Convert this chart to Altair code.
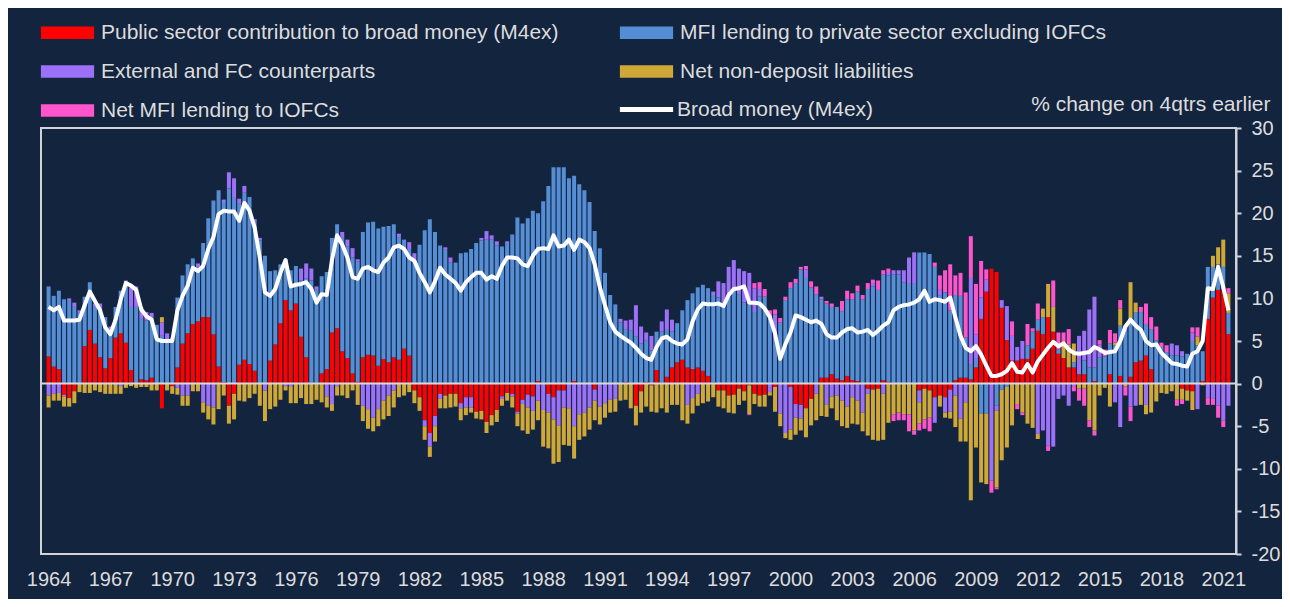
import altair as alt
import pandas as pd

start_year = 1964
x_labels = list(range(1964, 2022, 3))
y_ticks = list(range(-20, 31, 5))

# quarterly values, 1964Q1 .. 2021Q2 (one line per year)
public_sector = [
    3.2, 2.0, 1.7, -1.3,  -1.7, -0.9, 0, 4.4,  6.3, 4.7, 3.1, 1.8,  3.0, 5.4, 5.9, 4.8,
    1.6, 0, 0.5, 0.4,  0.7, 0, -2.9, 0,  -0.3, 1.9, 4.7, 5.9,  7.0, 7.3, 7.8, 7.8,
    5.8, 2.0, 0.2, -2.6,  -1.2, 2.2, 2.8, 2.3,  1.5, 0, 0, 2.7,  4.6, 7.1, 9.8, 8.6,
    9.4, 5.5, 3.1, 0.1,  0, 1.2, 1.7, 6.0,  6.5, 3.8, 3.0, 1.2,  0.2, 3.1, 3.4, 3.3,
    2.1, 2.9, 2.5, 3.1,  2.8, 4.1, 3.3, -0.8,  -1.6, -4.3, -5.8, -3.8,  -1.2, -1.4, -1.2, -1.2,
    -2.3, -1.6, -1.6, -3.3,  -3.2, -4.5, -3.7, -3.1,  -1.5, -1.1, -1.2, -3.3,  -1.9, -1.3, -1.5, 0.3,
    0, -1.2, -1.6, -0.8,  -0.8, 0, 0.3, 0,  0, 0, -0.7, 0,  0, 0, 0, 0,
    0.2, 0, -2.6, -0.9,  0.2, -0.2, 1.6, 0.1,  0.8, 1.9, 2.5, 2.8,  1.9, 1.7, 1.9, 1.5,
    0.9, 0.1, -0.8, -0.8,  -1.4, -1.3, -0.6, -0.9,  -0.2, -1.2, -1.4, -1.3,  0, -0.4, 0, 0,
    -0.4, -2.4, -2.5, -2.9,  -1.8, 0, 0.7, 0.7,  1.1, 0.6, 0.4, 0.9,  0.4, 0.3, 0, -0.6,
    -0.7, -0.6, 0.4, 0.2,  0, 0, 0, 0,  0, -0.8, -0.6, -0.8,  -1.6, -1.4, -1.6, -0.7,
    0.4, 0.7, 0.7, 0.5,  1.9, 7.6, 10.8, 13.5,  13.1, 8.9, 5.1, 2.7,  2.7, 2.9, 2.9, 4.1,
    6.2, 5.8, 7.8, 6.1,  3.5, 3.0, 1.9, 1.9,  1.1, 1.1, 0, 0.3,  0, 0, 1.1, 0,
    0.9, 0, 0.8, 2.5,  2.7, 3.3, 1.7, 0,  0, 0, 0, 0,  -0.6, -0.8, -0.9, 0,
    0.3, 7.6, 10.1, 11.0,  11.1, 5.8,
]
mfi_lending = [
    8.2, 8.3, 9.2, 9.9,  9.7, 9.0, 8.3, 5.8,  5.6, 4.3, 5.9, 6.0,  3.4, 3.6, 5.0, 7.0,
    7.4, 9.0, 7.1, 7.0,  7.1, 6.9, 5.6, 5.2,  5.4, 8.2, 8.0, 8.1,  7.7, 6.4, 8.7, 11.6,
    15.7, 20.7, 21.1, 22.9,  21.8, 18.9, 19.6, 19.6,  17.4, 16.8, 15.0, 10.5,  8.7, 6.9, 4.8, 4.7,
    4.4, 6.6, 9.2, 12.0,  11.0, 11.4, 11.4, 11.1,  12.2, 13.3, 13.1, 13.6,  14.1, 14.7, 15.5, 15.7,
    16.1, 15.5, 16.0, 15.6,  14.4, 12.8, 12.5, 14.4,  16.3, 18.0, 19.3, 17.8,  16.2, 15.7, 14.2, 14.2,
    15.3, 15.4, 15.8, 16.5,  16.8, 16.9, 16.9, 16.2,  16.1, 16.5, 17.5, 19.5,  18.8, 19.4, 20.3, 19.7,
    21.4, 23.2, 25.4, 25.4,  25.4, 24.1, 24.1, 23.4,  22.7, 21.3, 17.9, 15.9,  13.0, 10.4, 9.3, 7.2,
    6.2, 6.2, 5.5, 4.7,  4.9, 3.9, 4.5, 6.0,  5.5, 4.2, 4.6, 5.8,  7.9, 8.9, 9.4, 10.1,
    10.3, 10.3, 10.1, 9.0,  10.3, 11.1, 10.5, 9.5,  9.3, 8.4, 10.2, 10.2,  7.8, 5.0, 7.2, 9.8,
    11.2, 11.8, 13.4, 12.4,  11.3, 10.5, 9.2, 8.7,  7.9, 8.4, 8.1, 9.0,  9.5, 10.5, 9.9, 11.1,
    11.4, 11.0, 12.4, 12.5,  12.8, 12.8, 11.9, 11.7,  11.7, 15.4, 15.4, 15.2,  13.7, 10.3, 10.7, 8.6,
    10.0, 9.6, 4.7, 1.7,  1.0, -3.5, -3.5, 0,  -2.6, -0.7, -0.4, 0,  0, 0, 1.6, 2.0,
    1.3, 2.0, 0, 0,  0.5, 0, 0, 0.6,  0, 1.6, 1.9, 1.6,  3.1, 3.2, 3.6, 4.5,
    5.9, 6.4, 6.6, 5.9,  5.7, 3.7, 4.7, 5.1,  4.3, 3.7, 3.3, 3.3,  3.2, 3.5, 5.0, 4.5,
    3.5, 6.1, 3.6, 3.0,  2.6, 2.5,
]
external_fc = [
    -1.4, -1.2, -1.1, -0.2,  0.3, 0.5, 0.3, 0,  0, 0.4, 0.4, 0,  0.3, 0, -0.3, 0.3,
    2.3, 2.4, 1.4, 1.0,  0.5, 0, 1.6, 0.7,  0, -0.5, -1.4, -1.4,  0, 0.4, -2.2, -2.6,
    -2.8, 0, 0.3, 1.9,  2.3, 0.6, 0.8, 0,  0.4, 0.3, -0.8, 0,  0, 0, -0.3, -0.3,
    0, 1.4, 1.8, 1.4,  0.4, 0, -1.5, -2.4,  -0.3, 0.7, 0.8, 1.1,  0.3, -2.6, -3.0, -4.0,
    -3.0, -2.0, -1.4, -0.8,  0.4, 0, 0.8, 0.9,  0, -0.7, -1.6, -1.2,  -0.6, 0.3, 0.6, 0,
    -0.6, -1.2, -1.2, 0,  0.3, 1.0, 0.5, 0.5,  -0.3, 0.2, -0.3, -0.2,  -0.5, -1.5, -1.7, -2.0,
    -3.1, -2.2, -2.6, -4.1,  -2.0, -2.9, -5.0, -3.6,  -3.4, -2.8, -1.3, -2.7,  -2.3, -1.9, -1.8, 0.4,
    1.0, 1.3, 3.7, 2.0,  0.9, 1.7, 0, 1.2,  2.4, 1.4, 0, 0,  -2.5, -1.7, -1.2, 0,
    0, 0.4, 1.9, 2.8,  3.4, 3.4, 3.0, 3.7,  3.7, 2.8, 0.9, 0,  -1.0, 3.1, -3.5, -5.8,
    -5.0, -1.6, -1.6, 1.0,  0, -1.2, 0.3, -2.5,  -1.5, -1.4, -2.0, -2.7,  -1.6, -2.0, -3.4, -0.6,
    0.4, 0, -1.2, 0.4,  0.5, 0.5, 1.4, 3.1,  3.7, -1.4, 0, 0,  -3.0, 0.7, -1.8, -2.6,
    -1.4, -4.1, -2.2, 10.2,  2.9, 2.5, 1.4, -11.4,  -0.6, 0.9, 4.0, 2.9,  1.6, 2.1, 0, 0,
    -5.9, -5.5, -7.3, -7.4,  -1.8, -1.4, -2.6, -0.3,  4.5, 3.5, 6.8, 8.3,  1.5, 0, 0, -2.2,
    -5.1, 0.4, -2.7, -2.6,  0, -2.5, 0, 0,  0, 0, 1.4, 1.2,  0.6, 0, 1.0, -3.0,
    0, -1.6, -1.8, -2.6,  -4.3, -2.6,
]
non_deposit = [
    -1.4, -0.8, -0.9, -1.2,  -1.0, -1.4, -1.0, -1.1,  -1.1, -0.8, -1.0, -1.2,  -1.2, -1.2, -0.9, -0.5,
    -0.3, -0.5, -0.4, -0.4,  -0.8, -0.8, 0.6, -0.8,  -0.9, -0.8, -1.2, -1.2,  -0.9, -0.9, -1.2, -1.6,
    -2.0, -3.0, -1.4, -2.1,  -3.0, -2.0, -2.1, -1.7,  -1.2, -2.6, -3.6, -3.0,  -2.7, -1.9, -0.5, -2.0,
    -2.3, -1.7, -2.4, -2.4,  -1.9, -2.2, -1.3, -0.8,  -1.1, -1.4, -1.7, -0.8,  -2.5, -1.8, -2.3, -1.6,
    -2.0, -2.2, -2.4, -2.0,  -1.6, -1.4, -1.0, -1.5,  -1.6, -1.6, -1.2, -1.8,  -1.1, -1.5, -1.6, -1.5,
    -1.4, -0.9, -0.6, -0.8,  -1.0, -1.3, -1.2, -1.4,  -0.8, -0.9, -1.3, -1.5,  -3.1, -3.1, -2.2, -2.3,
    -4.3, -4.2, -5.2, -4.3,  -4.4, -4.4, -3.8, -3.0,  -2.8, -2.6, -2.3, -2.1,  -1.7, -1.5, -1.5, -2.0,
    -1.9, -2.9, -2.3, -2.5,  -2.7, -3.1, -3.4, -2.9,  -3.4, -2.5, -2.5, -4.3,  -2.2, -1.8, -1.4, -2.3,
    -2.1, -1.6, -1.9, -2.1,  -2.0, -2.2, -1.9, -1.1,  -3.4, -1.2, -1.3, -1.4,  -0.4, -2.9, -1.5, -0.6,
    -1.2, -2.0, -1.4, -3.4,  -3.1, -3.1, -3.8, -1.4,  -1.4, -2.9, -3.0, -2.5,  -3.1, -2.8, -2.2, -4.9,
    -5.9, -6.1, -5.4, -4.6,  -3.6, -3.4, -3.6, -3.6,  -5.5, -2.5, -3.6, -3.2,  0, -1.3, -0.6, -0.8,
    -3.7, -2.7, -4.6, -13.7,  -7.5, -8.1, -8.3, 0,  -9.0, -8.3, -7.1, -4.9,  -2.4, -3.4, -4.7, -5.2,
    -0.6, 1.0, 3.9, 2.9,  0, 2.0, 2.7, 2.2,  -0.6, -0.6, -4.3, -5.5,  -1.4, -0.5, -2.7, 0.3,
    2.0, -0.3, 4.5, 1.1,  -2.5, -1.1, -3.4, -2.1,  -1.1, -1.2, -0.9, -1.9,  -1.3, -1.2, -2.2, 1.0,
    -0.2, 0, 1.3, 2.0,  3.2, 2.3,
]
iofc_lending = [
    0, 0, 0, 0,  0, 0, 0, 0,  0, 0, 0, 0,  0, 0, 0, 0,
    0, 0, 0, 0,  0, 0, 0, 0,  0, 0, 0, 0,  0, 0, 0, 0,
    0, 0, 0, 0,  0, 0, 0, 0,  0, 0, 0, 0,  0, 0, 0, 0,
    0, 0, 0, 0,  0, 0, 0, 0,  0, 0, 0, 0,  0, 0, 0, 0,
    0, 0, 0, 0,  0, 0, 0, 0,  0, 0, 0, 0,  0, 0, 0, 0,
    0, 0, 0, 0,  0, 0, 0, 0,  0, 0, 0, 0,  0, 0, 0, 0,
    0, 0, 0, 0,  0, 0, 0, 0,  0, 0, 0, 0,  0, 0, 0, 0,
    0, 0, 0, 0,  0, 0, 0, 0,  0, 0, 0, 0,  0, 0, 0, 0,
    0, 0, 0, 0,  0, 0, 0, 0,  -0.1, 0.6, 0.8, 0.9,  0.8, 0.6, 0.5, 0.4,
    0.7, 0.5, 0.3, 0.4,  0.7, 0.9, 0, 0.3,  0.4, 0, 1.2, 1.0,  0.7, 0.7, 0.5, 0.7,
    0.4, 1.1, 0.5, 0.4,  -0.8, -0.9, -0.7, -2.0,  -0.5, -0.8, -1.1, -1.6,  0.5, 1.7, 2.6, 5.4,
    2.3, 2.7, 5.3, 4.9,  5.9, 4.3, 1.2, -1.4,  -0.2, 0, 0, 1.7,  -0.6, -0.3, 2.5, 0.4,
    1.9, 0, -0.6, 3.1,  2.0, 1.0, 1.8, -0.6,  -1.4, -2.0, -0.8, -0.6,  0.5, 0.8, 1.6, 1.1,
    1.0, -1.1, -1.7, 0,  0.6, 2.4, 1.4, 1.6,  0.5, 0.8, 0, -0.7,  -0.5, 0, 0.6, 1.1,
    0, -0.9, -0.7, -1.4,  -0.8, 0.6,
]
broad_money = [
    9.0, 8.6, 9.0, 7.4,  7.4, 7.4, 7.5, 9.2,  10.8, 9.7, 8.6, 6.6,  5.8, 7.5, 9.9, 11.8,
    11.5, 11.0, 8.7, 7.9,  7.5, 5.2, 5.0, 5.0,  5.0, 8.6, 10.3, 11.5,  13.6, 13.2, 13.8, 15.8,
    17.2, 19.9, 20.3, 20.2,  20.2, 19.1, 21.2, 20.3,  18.3, 14.8, 10.7, 10.3,  11.1, 13.0, 14.5, 11.4,
    11.6, 11.7, 11.9, 11.1,  9.5, 10.5, 10.4, 14.5,  17.4, 16.3, 14.8, 12.5,  12.3, 13.5, 13.7, 13.3,
    13.1, 14.2, 14.8, 16.0,  16.2, 15.8, 14.8, 14.4,  13.0, 11.9, 10.7, 12.0,  13.6, 12.8, 12.3, 11.8,
    10.9, 11.9, 12.5, 13.0,  13.0, 12.2, 12.6, 12.3,  13.8, 14.8, 14.8, 14.7,  14.0, 13.8, 15.0, 15.8,
    15.9, 15.8, 17.4, 16.1,  16.2, 16.9, 15.7, 16.9,  16.6, 15.9, 14.0, 11.3,  9.2, 7.2, 6.1, 5.6,
    5.2, 4.8, 4.2, 3.5,  3.0, 2.8, 4.3, 5.3,  5.5, 5.0, 4.7, 4.6,  5.2, 7.3, 8.7, 9.4,
    9.3, 9.3, 9.4, 9.1,  10.4, 11.1, 11.2, 11.4,  9.5, 9.5, 9.4, 8.8,  7.8, 5.9, 2.9, 4.6,
    6.0, 8.0, 7.8, 7.5,  7.2, 7.4, 7.0, 5.8,  5.4, 5.4, 6.0, 6.4,  6.5, 6.0, 6.1, 6.3,
    5.7, 6.2, 6.8, 7.2,  8.6, 9.0, 9.2, 9.3,  9.5, 9.9, 10.9, 9.6,  9.9, 9.8, 9.6, 10.1,
    7.8, 5.6, 4.2, 3.8,  4.4, 3.4, 2.1, 0.9,  0.9, 1.1, 1.5, 2.4,  1.4, 1.3, 2.3, 1.3,
    2.6, 3.4, 4.2, 4.9,  4.4, 4.7, 4.0, 3.6,  3.5, 3.6, 3.7, 4.3,  4.0, 3.6, 3.7, 3.8,
    5.0, 6.7, 7.5, 6.8,  6.3, 5.0, 4.5, 4.6,  3.6, 3.0, 2.4, 2.3,  2.1, 2.0, 3.5, 3.8,
    5.0, 11.2, 11.1, 13.7,  11.3, 8.6,
]

series_names = [
    "Public sector contribution to broad money (M4ex)",
    "MFI lending to private sector excluding IOFCs",
    "External and FC counterparts",
    "Net non-deposit liabilities",
    "Net MFI lending to IOFCs",
]
series_lists = [public_sector, mfi_lending, external_fc, non_deposit, iofc_lending]
series_colors = ["#ff0000", "#558ed5", "#9d70f8", "#cfa838", "#ff55cc"]
line_name = "Broad money (M4ex)"

BG = "#13243f"
FG = "#dcdcdc"
FRAME = "#d0d4da"
FONT = "Liberation Sans, Arial, sans-serif"

n = len(broad_money)
dates = [start_year + k / 4 for k in range(n)]
rows = []
for order, (name, vals) in enumerate(zip(series_names, series_lists)):
    for d, v in zip(dates, vals):
        rows.append({"date": d, "series": name, "value": v, "ord": order})
bars_df = pd.DataFrame(rows)
line_df = pd.DataFrame({"date": dates, "value": broad_money, "series": line_name})
zero_df = pd.DataFrame({"value": [0]})

x_scale = alt.Scale(domain=[start_year - 0.125, dates[-1] + 0.125], nice=False, zero=False)
y_scale = alt.Scale(domain=[-20, 30], nice=False)

x_axis = alt.Axis(values=x_labels, format="d", ticks=False, tickSize=0, domain=False, grid=False,
                  labelPadding=15, labelFontSize=20, labelColor=FG, labelFont=FONT,
                  labelOverlap=False, labelFlush=False, title=None)
y_axis = alt.Axis(orient="right", values=y_ticks, grid=False, tickSize=5, tickColor=FRAME,
                  tickWidth=2, domainColor=FRAME, domainWidth=2, labelPadding=10,
                  labelExpr="'' + datum.value",
                  labelFontSize=20, labelColor=FG, labelFont=FONT,
                  title="% change on 4qtrs earlier", titleAngle=0, titleAlign="right",
                  titleBaseline="alphabetic", titleX=34, titleY=-18, titleFontSize=21,
                  titleFontWeight="normal", titleColor=FG, titleFont=FONT)

bar_legend = alt.Legend(title=None, orient="none", legendX=16, legendY=-106, columns=2,
                        direction="horizontal", columnPadding=60, rowPadding=17, padding=0,
                        symbolType="M-3.8,-0.9H3.8V0.9H-3.8Z", symbolSize=196,
                        symbolStrokeWidth=0, labelOffset=23, labelFontSize=21,
                        labelColor=FG, labelFont=FONT, labelLimit=800)
line_legend = alt.Legend(title=None, orient="none", legendX=595, legendY=-29, padding=0,
                         symbolType="M-3.8,0H3.8", symbolSize=196, symbolStrokeWidth=5,
                         labelOffset=20, labelFontSize=21, labelColor=FG, labelFont=FONT,
                         labelLimit=800)

bars = alt.Chart(bars_df).mark_bar(size=4).encode(
    x=alt.X("date:Q", scale=x_scale, axis=x_axis),
    y=alt.Y("value:Q", scale=y_scale, axis=y_axis, stack="zero"),
    color=alt.Color("series:N", scale=alt.Scale(domain=series_names, range=series_colors),
                    legend=bar_legend, sort=series_names),
    order=alt.Order("ord:Q", sort="ascending"),
)

zero_rule = alt.Chart(zero_df).mark_rule(color="#d9d9d9", strokeWidth=2).encode(
    y=alt.Y("value:Q", scale=y_scale, axis=y_axis)
)

line = alt.Chart(line_df).mark_line(strokeWidth=4, strokeJoin="round").encode(
    x=alt.X("date:Q", scale=x_scale, axis=x_axis),
    y=alt.Y("value:Q", scale=y_scale, axis=y_axis),
    color=alt.Color("series:N", scale=alt.Scale(domain=[line_name], range=["#ffffff"]),
                    legend=line_legend),
)

chart = alt.layer(bars, zero_rule, line).resolve_scale(color="independent").properties(
    width=1195, height=426, background=BG,
    padding={"left": 33, "top": 120, "right": 46, "bottom": 45},
    autosize=alt.AutoSizeParams(type="none"),
).configure_view(stroke=FRAME, strokeWidth=2)

chart.save("out.html", embed_options={"renderer": "svg", "actions": False})
